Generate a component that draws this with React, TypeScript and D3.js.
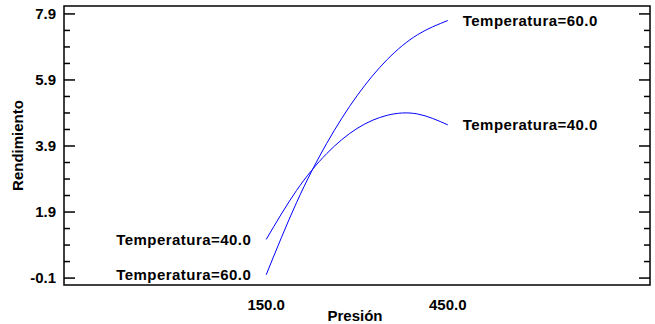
import React from "react";
import * as d3 from "d3";

const pressures = [150, 200, 250, 300, 350, 400, 450];
const temp40 = [1.07, 2.55, 3.67, 4.43, 4.83, 4.87, 4.54];
const temp60 = [0.0, 2.18, 3.98, 5.42, 6.52, 7.27, 7.7];
const yTicks = [-0.1, 1.9, 3.9, 5.9, 7.9];
const xTicks = [150, 450];
const seriesNames = ["Temperatura=40.0", "Temperatura=60.0"];

const W = 655;
const H = 324;
const left = 64;
const right = 650;
const top = 6;
const bottom = 285;
const font = "'Liberation Sans', Arial, sans-serif";

export default function App() {
  const x = d3.scaleLinear().domain([-184, 784]).range([left, right]);
  const y = d3.scaleLinear().domain([-0.31, 8.14]).range([bottom, top]);

  const minor = d3.range(-0.1, 8.0, 0.5).filter((v) => v >= -0.31 && v <= 8.14);

  const line = d3
    .line<number>()
    .x((_, i) => x(pressures[i]))
    .y((v) => y(v))
    .curve(d3.curveNatural);

  const series = [temp40, temp60];

  return (
    <svg width={W} height={H} style={{ position: "absolute", left: 0, top: 0 }}>
      <rect x={0} y={0} width={W} height={H} fill="white" />
      {series.map((s, i) => (
        <path key={i} d={line(s) || ""} fill="none" stroke="#0000ff" strokeWidth={1} />
      ))}
      {/* left/right ticks */}
      {minor.map((v, i) => {
        const isMajor = yTicks.some((t) => Math.abs(t - v) < 1e-6);
        const len = isMajor ? 11 : 6;
        return (
          <g key={i} stroke="black" strokeWidth={1.5}>
            <line x1={left} x2={left + len} y1={y(v)} y2={y(v)} />
            <line x1={right} x2={right - len} y1={y(v)} y2={y(v)} />
          </g>
        );
      })}
      <rect
        x={left}
        y={top}
        width={right - left}
        height={bottom - top}
        fill="none"
        stroke="black"
        strokeWidth={1.5}
      />
      <g fontFamily={font} fontWeight="bold" fontSize={15} fill="black">
        {yTicks.map((t) => (
          <text key={t} x={left - 8} y={y(t)} dy="0.35em" textAnchor="end">
            {t.toFixed(1)}
          </text>
        ))}
        {xTicks.map((t) => (
          <text key={t} x={x(t)} y={305} dy="0.35em" textAnchor="middle">
            {t.toFixed(1)}
          </text>
        ))}
        <text x={355} y={316} dy="0.35em" textAnchor="middle">
          Presión
        </text>
        <text
          transform={`translate(18,${(top + bottom) / 2}) rotate(-90)`}
          dy="0.35em"
          textAnchor="middle"
        >
          Rendimiento
        </text>
        {series.map((s, i) => (
          <g key={i} letterSpacing={0.45}>
            <text
              x={x(pressures[0]) - 15}
              y={y(s[0])}
              dy="0.35em"
              textAnchor="end"
            >
              {seriesNames[i]}
            </text>
            <text
              x={x(pressures[pressures.length - 1]) + 15}
              y={y(s[s.length - 1])}
              dy="0.35em"
              textAnchor="start"
            >
              {seriesNames[i]}
            </text>
          </g>
        ))}
      </g>
    </svg>
  );
}
